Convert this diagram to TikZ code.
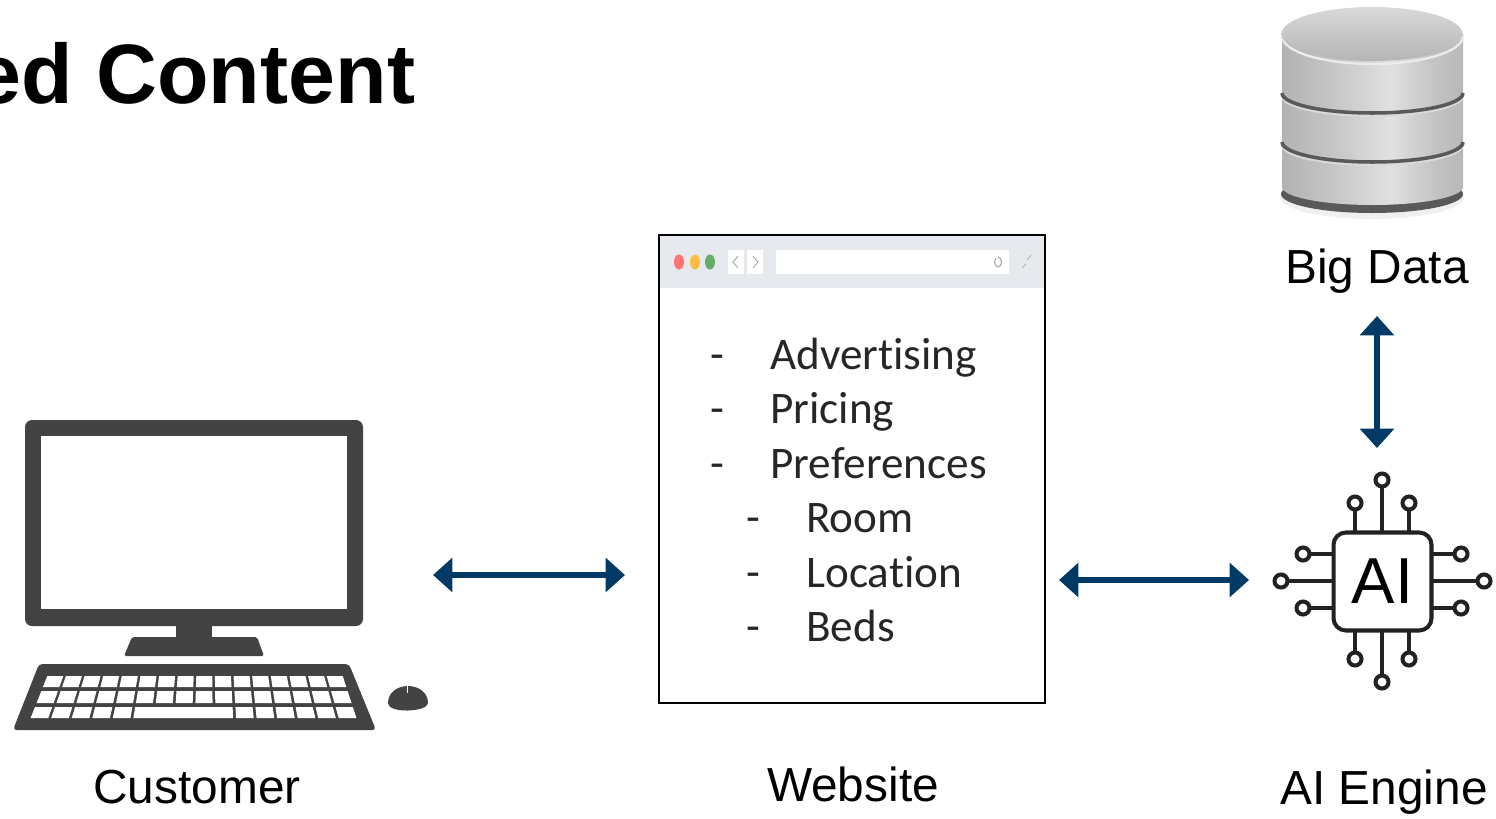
\documentclass[tikz,border=0pt]{standalone}
\usepackage{fontspec}
\setmainfont{Liberation Sans}
\newfontfamily\listfont[Ligatures=NoCommon]{Carlito}
\usetikzlibrary{arrows.meta}
\newcommand{\keycap}[4]{
	\fill[white] ({keyx(#1,#3)},#3) -- ({keyx(#2,#3)},#3) -- ({keyx(#2,#4)},#4) -- ({keyx(#1,#4)},#4) -- cycle;
}
\pgfdeclarehorizontalshading{dbbody}{100bp}{
	color(0bp)=(black!30); color(25bp)=(black!30); color(40bp)=(black!22); color(55bp)=(black!12);
	color(68bp)=(black!24); color(75bp)=(black!28); color(87bp)=(black!14); color(100bp)=(black!32)
}
\tikzset{
	declare function={keyx(\t,\y)=46-0.4*(\y-676)+\t*(298+0.73*(\y-676));},
	label/.style={font=\fontsize{27.2}{32}\selectfont, anchor=base, inner sep=0pt},
	item/.style={font=\listfont\fontsize{25.7}{30}\selectfont, anchor=base west, inner sep=0pt, text=black!85},
	pin/.style={line width=2.3pt, draw=mydark},
}
\begin{document}
\begin{tikzpicture}[x=0.02cm, y=-0.02cm]
\definecolor{arrowblue}{HTML}{023A66}
\definecolor{icongray}{HTML}{434343}
\definecolor{barcolor}{HTML}{E6EAEE}
\definecolor{mydark}{HTML}{222222}
\clip (0,0) rectangle (1496,818);
\node[font=\bfseries\fontsize{48}{56}\selectfont, anchor=base east, inner sep=0pt] (title) at (415.5,103) {ed Content};

\fill[icongray, rounded corners=4pt] (25,420) rectangle (363,626);
\fill[white] (41,436) rectangle (347,609);
\fill[icongray] (176,626) rectangle (212,638);
\fill[icongray, rounded corners=1pt] (132,637) -- (257,637) -- (264,656) -- (124,656) -- cycle;
\fill[icongray, rounded corners=2pt] (39,664) -- (349,664) -- (376,730) -- (13,730) -- cycle;
\foreach \i in {0,...,15} {
	\keycap{(\i+0.07)/16}{(\i+0.93)/16}{676}{687}
	\keycap{(\i+0.07)/16}{(\i+0.93)/16}{691}{703}
}
\foreach \i in {0,...,4,10,11,...,15} {
	\keycap{(\i+0.07)/16}{(\i+0.93)/16}{707}{718}
}
\keycap{5.07/16}{9.93/16}{707}{718}
\fill[icongray] (388,703) .. controls (388,692) and (398,686) .. (408,686) .. controls (418,686) and (428,692) .. (428,703) .. controls (428,712) and (388,714) .. (388,703) -- cycle;
\fill[white] (406.5,686) rectangle (408,693);
\node[label] (customer) at (197,803) {Customer};

\fill[barcolor] (660,236) rectangle (1044,288);
\node[draw=black, line width=1.2pt, minimum width=7.72cm, minimum height=9.36cm, inner sep=0pt] (web) at (852,469) {};
\fill[white] (728,250) rectangle (744,274);
\fill[white] (747,250) rectangle (763,274);
\fill[white] (776,250) rectangle (1009,274);
\fill[red!55!white] (679,262) ellipse (5 and 7.5);
\fill[orange!70!yellow!75!white] (695,262) ellipse (5 and 7.5);
\fill[green!45!black!60!white] (710,262) ellipse (5 and 7.5);
\draw[gray!70, line width=0.5pt] (738,256) -- (733,262) -- (738,268);
\draw[gray!70, line width=0.5pt] (753,256) -- (758,262) -- (753,268);
\draw[gray!70, line width=0.6pt] (998,257) arc (-90:230:3.5 and 5);
\draw[gray!60, line width=0.5pt] (1022,268) -- (1026,264);
\draw[gray!60, line width=0.5pt] (1027,260) -- (1031,255);
\node[item] (a1) at (710,369) {-};
\node[item] (a2) at (770,369) {Advertising};
\node[item] (b1) at (710,423) {-};
\node[item] (b2) at (770,423) {Pricing};
\node[item] (c1) at (710,478) {-};
\node[item] (c2) at (770,478) {Preferences};
\node[item] (d1) at (746,532) {-};
\node[item] (d2) at (806,532) {Room};
\node[item] (e1) at (746,587) {-};
\node[item] (e2) at (806,587) {Location};
\node[item] (f1) at (746,641) {-};
\node[item] (f2) at (806,641) {Beds};
\node[label] (website) at (853,801) {Website};

\fill[gray!12] (1372,197) ellipse (92 and 22);
\fill[black!65] (1372,194) ellipse (91 and 19);
\shade[shading=dbbody] (1282,34) -- (1282,187) arc[start angle=180, end angle=0, x radius=90.5, y radius=18] -- (1463,34) -- cycle;
\foreach \h in {93,142} {
	\draw[white!70!gray, line width=1.1pt] (1282,\h+3) arc[start angle=180, end angle=0, x radius=90.5, y radius=20];
	\draw[black!65, line width=2pt] (1282,\h) arc[start angle=180, end angle=0, x radius=90.5, y radius=20];
}
\draw[white!85!gray, line width=1.3pt] (1282,36) arc[start angle=180, end angle=0, x radius=90.5, y radius=28];
\shade[top color=gray!30, bottom color=gray!58] (1372,34) ellipse (90.5 and 27);
\node[label] (bigdata) at (1377,283) {Big Data};

\node[draw=mydark, line width=2.3pt, rounded corners=7pt, minimum width=1.96cm, minimum height=1.96cm, inner sep=0pt,
	font=\fontsize{37}{44}\selectfont] (chip) at (1382.5,581.5) {AI};
\foreach \x/\y in {1355/503, 1382/480, 1409/503} {
	\draw[pin] (\x,532) -- (\x,\y);
	\draw[pin, fill=white] (\x,\y) circle (6.5);
}
\foreach \x/\y in {1355/659, 1382/682, 1409/659} {
	\draw[pin] (\x,631) -- (\x,\y);
	\draw[pin, fill=white] (\x,\y) circle (6.5);
}
\foreach \x/\y in {1303/554, 1281/581, 1303/608} {
	\draw[pin] (1334,\y) -- (\x,\y);
	\draw[pin, fill=white] (\x,\y) circle (6.5);
}
\foreach \x/\y in {1461/554, 1484/581, 1461/608} {
	\draw[pin] (1431,\y) -- (\x,\y);
	\draw[pin, fill=white] (\x,\y) circle (6.5);
}
\node[label] (aiengine) at (1384,804) {AI Engine};

\coordinate (c1) at (433,575);
\coordinate (c2) at (625,575);
\coordinate (c3) at (1059,580);
\coordinate (c4) at (1249,580);
\coordinate (c5) at (1377,316);
\coordinate (c6) at (1377,448);
\begin{scope}[<->, >={Triangle[length=11pt,width=19pt]}, line width=3.7pt, arrowblue]
\draw (c1) -- (c2);
\draw (c3) -- (c4);
\draw (c5) -- (c6);
\end{scope}
\end{tikzpicture}
\end{document}
